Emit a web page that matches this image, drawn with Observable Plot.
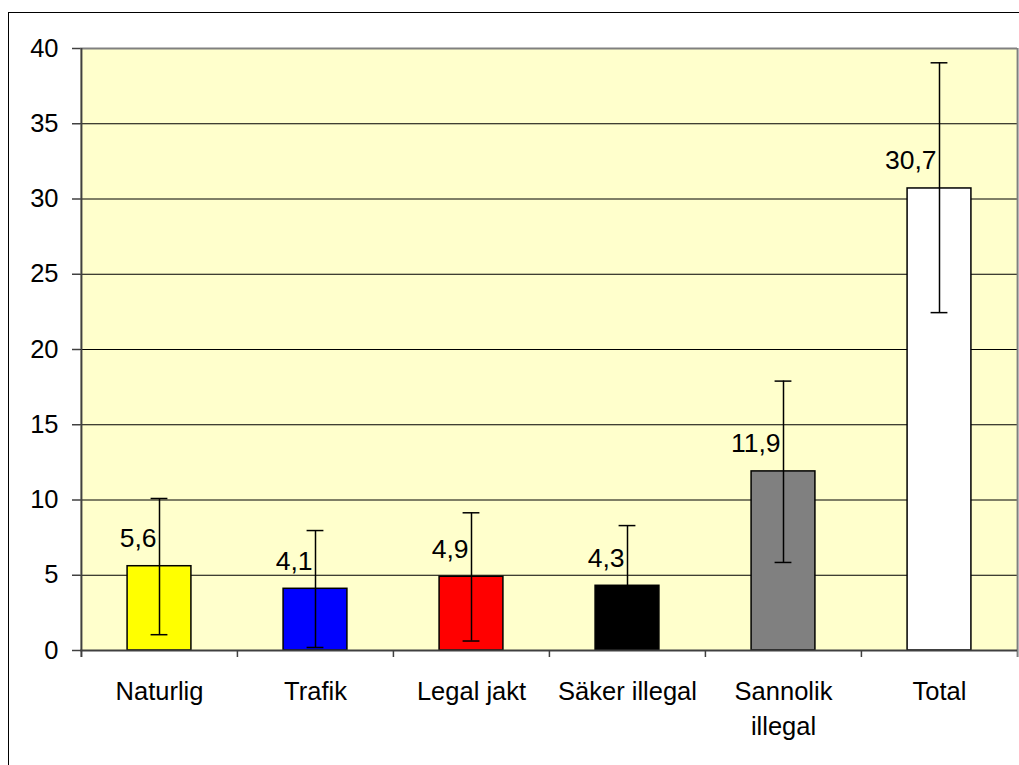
<!DOCTYPE html>
<html>
<head>
<meta charset="utf-8">
<script src="https://cdn.jsdelivr.net/npm/d3@7"></script>
<script src="https://cdn.jsdelivr.net/npm/@observablehq/plot@0.6"></script>
<style>
  html, body { margin: 0; padding: 0; background: #fff; overflow: hidden; }
  #wrap { position: relative; width: 1019px; height: 765px; }
  #border { position: absolute; left: 8px; top: 12px; width: 1100px; height: 900px; border: 1.5px solid #000; pointer-events: none; }
  #chart { position: absolute; left: 0; top: 0; }
</style>
</head>
<body>
<div id="wrap"><div id="chart"></div><div id="border"></div></div>
<script>
const categories = ["Naturlig", "Trafik", "Legal jakt", "Säker illegal", "Sannolik\nillegal", "Total"];
const values = [5.6, 4.1, 4.9, 4.3, 11.9, 30.7];
const lower = [1.05, 0.2, 0.63, 0.3, 5.85, 22.45];
const upper = [10.1, 7.97, 9.15, 8.3, 17.9, 39.05];
const colors = ["#FFFF00", "#0000FF", "#FF0000", "#000000", "#808080", "#FFFFFF"];
const yTicks = [0, 5, 10, 15, 20, 25, 30, 35, 40];

const data = categories.map((c, i) => ({cat: c, v: values[i], lo: lower[i], hi: upper[i], color: colors[i]}));

const W = 1019, H = 765, mL = 80, mR = 2, mT = 48, mB = 115;
const step = (W - mL - mR) / categories.length;
const barW = 64, capW = 17;
const barInset = (step - barW) / 2;
const capInset = (step - capW) / 2;
const font = "Arial, 'Liberation Sans', sans-serif";

const chart = Plot.plot({
  width: W, height: H,
  marginLeft: mL, marginRight: mR, marginTop: mT, marginBottom: mB,
  style: {fontFamily: font, fontSize: "25px", color: "#000", background: "transparent"},
  x: {type: "band", domain: categories, padding: 0, label: null},
  y: {domain: [0, 40], label: null},
  marks: [
    Plot.frame({fill: "#FFFFCC", stroke: "none"}),
    Plot.ruleY(yTicks.filter(t => t > 0 && t < 40), {stroke: "#000", strokeWidth: 1}),
    Plot.barY(data, {x: "cat", y: "v", fill: "color", stroke: "#000", strokeWidth: 1.5, insetLeft: barInset, insetRight: barInset}),
    Plot.ruleX(data, {x: "cat", y1: "lo", y2: "hi", stroke: "#000", strokeWidth: 1.5}),
    Plot.tickY(data, {x: "cat", y: "lo", stroke: "#000", strokeWidth: 1.5, insetLeft: capInset, insetRight: capInset}),
    Plot.tickY(data, {x: "cat", y: "hi", stroke: "#000", strokeWidth: 1.5, insetLeft: capInset, insetRight: capInset}),
    Plot.text(data, {x: "cat", y: "v", text: d => d.v.toFixed(1).replace(".", ","), textAnchor: "end", lineAnchor: "bottom", dx: -3, dy: -19, fontSize: 26.5, fill: "#000"}),
    // plot area border (top/right)
    Plot.ruleY([40], {stroke: "#808080", strokeWidth: 2}),
    Plot.ruleX([categories[categories.length - 1]], {stroke: "#808080", strokeWidth: 2, dx: step / 2, y1: 40, y2: 0, insetBottom: -7}),
    // axis lines
    Plot.ruleY([0], {stroke: "#404040", strokeWidth: 2}),
    Plot.ruleX([categories[0]], {stroke: "#404040", strokeWidth: 2, dx: -step / 2, y1: 40, y2: 0, insetBottom: -7}),
    // x tick marks at category boundaries
    Plot.ruleX(categories.slice(1), {stroke: "#404040", strokeWidth: 1.5, dx: -step / 2, y1: 0, y2: 0, insetBottom: -7}),
    Plot.axisY({ticks: yTicks, tickSize: 8, tickPadding: 14, tickFormat: d => String(d), fontSize: 25.5, stroke: "#404040", strokeWidth: 1.5, label: null}),
    Plot.axisX({tickSize: 0, tickPadding: 25, fontSize: 25.5, lineHeight: 1.36, label: null})
  ]
});
document.getElementById("chart").appendChild(chart);
</script>
</body>
</html>
